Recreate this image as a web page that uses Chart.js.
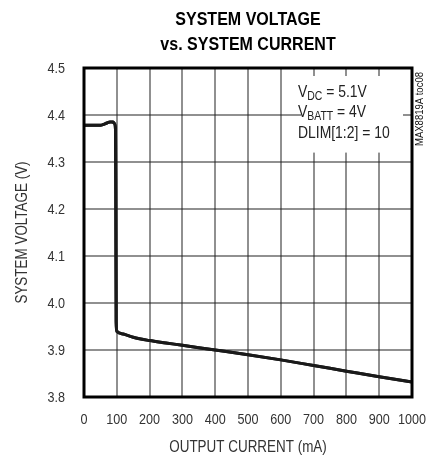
<!DOCTYPE html>
<html>
<head>
<meta charset="utf-8">
<script src="https://cdn.jsdelivr.net/npm/chart.js@4.4.0/dist/chart.umd.min.js"></script>
<style>
  html, body { margin: 0; padding: 0; background: #fff; }
  #wrap { width: 430px; height: 457px; }
</style>
</head>
<body>
<div id="wrap"><canvas id="sys_chart"></canvas></div>
<script>
const FONT = '"Liberation Sans", Arial, sans-serif';

// output current (mA) and system voltage (V)
const currentMA = [0, 20, 40, 50, 60, 70, 79, 88, 93, 96, 97, 98, 100, 120, 150, 200, 250, 300, 400, 500, 600, 700, 800, 900, 1000];
const voltage = [4.378, 4.378, 4.378, 4.378, 4.380, 4.383, 4.385, 4.385, 4.382, 4.37, 4.2, 3.96, 3.940, 3.934, 3.927, 3.920, 3.915, 3.910, 3.900, 3.890, 3.879, 3.867, 3.855, 3.843, 3.832];

const xTicks = [0, 100, 200, 300, 400, 500, 600, 700, 800, 900, 1000];
const yTicks = [3.8, 3.9, 4.0, 4.1, 4.2, 4.3, 4.4, 4.5];

const titleLines = ['SYSTEM VOLTAGE', 'vs. SYSTEM CURRENT'];
const xTitle = 'OUTPUT CURRENT (mA)';
const yTitle = 'SYSTEM VOLTAGE (V)';
const tocLabel = 'MAX8819A toc08';

// text squeezed horizontally to mimic the condensed face of the original
function narrowText(c, txt, x, y, font, sx, align) {
  c.save();
  c.font = font;
  c.textAlign = 'left';
  const w = c.measureText(txt).width * sx;
  let x0 = x;
  if (align === 'center') x0 = x - w / 2;
  else if (align === 'right') x0 = x - w;
  c.translate(x0, y);
  c.scale(sx, 1);
  c.fillText(txt, 0, 0);
  c.restore();
  return w;
}

function drawGrid(chart) {
  const c = chart.ctx;
  const xs = chart.scales.x, ys = chart.scales.y;
  const a = chart.chartArea;
  // box kept clear for the conditions note
  const bl = xs.getPixelForValue(662), br = xs.getPixelForValue(968);
  const bt = ys.getPixelForValue(4.485), bb = ys.getPixelForValue(4.32);
  c.save();
  c.setTransform(1, 0, 0, 1, 0, 0);
  const dpr = chart.currentDevicePixelRatio || 1;
  c.scale(dpr, dpr);
  c.globalAlpha = 1;
  c.globalCompositeOperation = 'source-over';
  c.fillStyle = '#222';
  xTicks.forEach(v => {
    const px = Math.round(xs.getPixelForValue(v)) - 0.5;
    if (px > bl && px < br) {
      c.fillRect(px, a.top, 1, 8);
      c.fillRect(px, bb, 1, a.bottom - bb);
    } else {
      c.fillRect(px, a.top, 1, a.bottom - a.top);
    }
  });
  yTicks.forEach(v => {
    const py = Math.round(ys.getPixelForValue(v)) - 0.5;
    if (py > bt && py < bb) {
      c.fillRect(a.left, py, bl - a.left, 1);
      c.fillRect(a.right - 9, py, 9, 1);
    } else {
      c.fillRect(a.left, py, a.right - a.left, 1);
    }
  });
  c.restore();
}

const extras = {
  id: 'extras',
  afterDraw(chart) {
    const c = chart.ctx;
    const a = chart.chartArea;
    const xs = chart.scales.x, ys = chart.scales.y;
    c.save();
    c.textBaseline = 'alphabetic';
    // title
    c.fillStyle = '#000';
    const cx = (a.left + a.right) / 2;
    narrowText(c, titleLines[0], cx, 25, 'bold 18px ' + FONT, 0.89, 'center');
    narrowText(c, titleLines[1], cx, 50, 'bold 18px ' + FONT, 0.89, 'center');

    // tick labels
    c.fillStyle = '#333';
    xTicks.forEach(v => {
      narrowText(c, String(v), xs.getPixelForValue(v), 424, '15px ' + FONT, 0.84, 'center');
    });
    yTicks.forEach(v => {
      narrowText(c, v.toFixed(1), 65, ys.getPixelForValue(v) + 5, '15px ' + FONT, 0.84, 'right');
    });

    // axis titles
    narrowText(c, xTitle, cx, 452, '16px ' + FONT, 0.84, 'center');
    c.save();
    c.translate(27, (a.top + a.bottom) / 2);
    c.rotate(-Math.PI / 2);
    narrowText(c, yTitle, 0, 0, '16px ' + FONT, 0.84, 'center');
    c.restore();

    // conditions note
    c.fillStyle = '#222';
    const note = [
      [['V', 0], ['DC', 1], [' = 5.1V', 0]],
      [['V', 0], ['BATT', 1], [' = 4V', 0]],
      [['DLIM[1:2] = 10', 0]]
    ];
    const base = [97, 117, 138];
    note.forEach((parts, i) => {
      let x = 298;
      parts.forEach(([txt, sub]) => {
        x += narrowText(c, txt, x, base[i] + (sub ? 3 : 0), (sub ? '12px ' : '16px ') + FONT, 0.87, 'left');
      });
    });

    // figure id
    c.save();
    c.fillStyle = '#111';
    c.translate(423, 109);
    c.rotate(-Math.PI / 2);
    narrowText(c, tocLabel, 0, 0, '10px ' + FONT, 0.95, 'center');
    c.restore();
    c.restore();

    // grid, then the curve again on top, then the frame
    drawGrid(chart);
    c.save();
    c.beginPath();
    c.rect(a.left, a.top, a.right - a.left, a.bottom - a.top);
    c.clip();
    chart.getDatasetMeta(0).dataset.draw(c, a);
    c.restore();

    c.save();
    c.strokeStyle = '#000';
    c.lineWidth = 3;
    c.strokeRect(a.left, a.top, a.right - a.left, a.bottom - a.top);
    c.restore();
  }
};

new Chart(document.getElementById('sys_chart'), {
  type: 'scatter',
  data: {
    datasets: [{
      data: currentMA.map((x, i) => ({ x: x, y: voltage[i] })),
      showLine: true,
      borderColor: '#1a1a1a',
      borderWidth: 3,
      pointRadius: 0,
      cubicInterpolationMode: 'monotone'
    }]
  },
  options: {
    responsive: true,
    maintainAspectRatio: false,
    animation: false,
    layout: { padding: { left: 0, right: 18, top: 68, bottom: 0 } },
    plugins: { legend: { display: false }, tooltip: { enabled: false } },
    scales: {
      x: {
        type: 'linear',
        min: 0, max: 1000,
        afterFit: s => { s.height = 60; },
        grid: { display: false },
        border: { display: false },
        ticks: { display: false }
      },
      y: {
        min: 3.8, max: 4.5,
        afterFit: s => { s.width = 84; },
        grid: { display: false },
        border: { display: false },
        ticks: { display: false }
      }
    }
  },
  plugins: [extras]
});
</script>
</body>
</html>
